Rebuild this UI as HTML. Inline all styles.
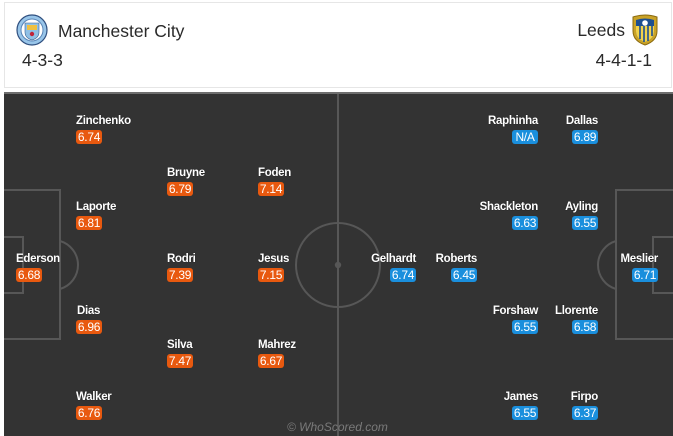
<!DOCTYPE html>
<html><head><meta charset="utf-8"><style>
html,body{margin:0;padding:0;}
body{width:673px;height:436px;position:relative;overflow:hidden;background:#fff;font-family:"Liberation Sans",Arial,sans-serif;}
.hdr{position:absolute;left:4px;top:2px;width:666px;height:84px;border:1px solid #e6e6e6;background:#fff;}
.t{position:absolute;color:#2a2a2a;font-size:17.5px;line-height:20px;white-space:nowrap;}
.pitch{position:absolute;left:4px;top:92px;width:669px;height:344px;background:#333;border-top:2px solid #6e6e6e;box-sizing:border-box;}
.n{position:absolute;color:#fff;font-weight:bold;font-size:11.5px;line-height:12px;white-space:nowrap;letter-spacing:-0.3px;text-shadow:0 0 1px rgba(0,0,0,.6);}
.b{position:absolute;height:14px;width:26px;line-height:14px;border-radius:3px;color:#fff;font-size:12px;text-align:center;letter-spacing:-0.3px;}
.h{background:#e8590f;}
.a{background:#1a8fdd;}
.r{text-align:right;}
.wm{position:absolute;left:287px;top:420px;width:100px;color:#7a7a7a;font-style:italic;font-size:12px;line-height:14px;white-space:nowrap;}
</style></head><body>
<div class="hdr"></div>
<svg style="position:absolute;left:16px;top:14px" width="32" height="32" viewBox="0 0 32 32">
<circle cx="16" cy="16" r="15" fill="#98c5e9" stroke="#2f4f7f" stroke-width="1.2"/>
<circle cx="16" cy="16" r="11" fill="#fff" stroke="#5a86b8" stroke-width="1"/>
<path d="M9 9 H23 V18 Q23 24 16 26 Q9 24 9 18 Z" fill="#8fc0e6" stroke="#3a5f8f" stroke-width=".6"/>
<rect x="11" y="11" width="10" height="5" fill="#f0c040"/>
<circle cx="16" cy="20" r="2.2" fill="#c0243a"/>
</svg>
<div class="t" style="left:58px;top:21px;">Manchester City</div>
<div class="t" style="left:22px;top:50px;">4-3-3</div>
<div class="t" style="right:48px;top:20px;">Leeds</div>
<svg style="position:absolute;left:631px;top:14px" width="28" height="32" viewBox="0 0 28 32">
<path d="M2 3 Q14 -1 26 3 V17 Q26 27 14 31 Q2 27 2 17 Z" fill="#c9a227" stroke="#8a6a10" stroke-width="1"/>
<path d="M5 6 Q14 3 23 6 V17 Q23 25 14 28 Q5 25 5 17 Z" fill="#1d4f91"/>
<path d="M5 12 H23 V17 Q23 25 14 28 Q5 25 5 17 Z" fill="#f2d34a"/>
<path d="M9 12 V25 M13 12 V28 M17 12 V27 M21 12 V22" stroke="#1d4f91" stroke-width="1.6"/>
<circle cx="14" cy="9" r="2.8" fill="#fff"/>
</svg>
<div class="t" style="right:21px;top:50px;">4-4-1-1</div>

<div class="pitch"></div>
<svg style="position:absolute;left:0;top:0" width="673" height="436">
<defs><clipPath id="cp"><rect x="4" y="94" width="669" height="342"/></clipPath></defs>
<g fill="none" stroke="#575757" stroke-width="2" clip-path="url(#cp)">
<line x1="338" y1="94" x2="338" y2="436"/>
<circle cx="338" cy="265" r="42"/>
<rect x="2" y="190" width="58" height="149"/>
<rect x="2" y="237" width="21" height="56"/>
<path d="M60 241 A25 25 0 0 1 60 289"/>
<rect x="616" y="190" width="60" height="149"/>
<rect x="653" y="237" width="22" height="56"/>
<path d="M616 241 A25 25 0 0 0 616 289"/>
</g>
<circle cx="338" cy="265" r="3.2" fill="#575757"/>
</svg>

<!-- Home -->
<div class="n" style="left:76px;top:114.5px;">Zinchenko</div><div class="b h" style="left:76px;top:130px;">6.74</div>
<div class="n" style="left:167px;top:166.5px;">Bruyne</div><div class="b h" style="left:167px;top:182px;">6.79</div>
<div class="n" style="left:258px;top:166.5px;">Foden</div><div class="b h" style="left:258px;top:182px;">7.14</div>
<div class="n" style="left:76px;top:200.5px;">Laporte</div><div class="b h" style="left:76px;top:216px;">6.81</div>
<div class="n" style="left:16px;top:252.5px;">Ederson</div><div class="b h" style="left:16px;top:268px;">6.68</div>
<div class="n" style="left:167px;top:252.5px;">Rodri</div><div class="b h" style="left:167px;top:268px;">7.39</div>
<div class="n" style="left:258px;top:252.5px;">Jesus</div><div class="b h" style="left:258px;top:268px;">7.15</div>
<div class="n" style="left:77px;top:304.5px;">Dias</div><div class="b h" style="left:76px;top:320px;">6.96</div>
<div class="n" style="left:167px;top:338.5px;">Silva</div><div class="b h" style="left:167px;top:354px;">7.47</div>
<div class="n" style="left:258px;top:338.5px;">Mahrez</div><div class="b h" style="left:258px;top:354px;">6.67</div>
<div class="n" style="left:76px;top:390.5px;">Walker</div><div class="b h" style="left:76px;top:406px;">6.76</div>

<!-- Away -->
<div class="n r" style="right:135px;top:114.5px;">Raphinha</div><div class="b a" style="right:135px;top:130px;">N/A</div>
<div class="n r" style="right:75px;top:114.5px;">Dallas</div><div class="b a" style="right:75px;top:130px;">6.89</div>
<div class="n r" style="right:135px;top:200.5px;">Shackleton</div><div class="b a" style="right:135px;top:216px;">6.63</div>
<div class="n r" style="right:75px;top:200.5px;">Ayling</div><div class="b a" style="right:75px;top:216px;">6.55</div>
<div class="n r" style="right:257px;top:252.5px;">Gelhardt</div><div class="b a" style="right:257px;top:268px;">6.74</div>
<div class="n r" style="right:196px;top:252.5px;">Roberts</div><div class="b a" style="right:196px;top:268px;">6.45</div>
<div class="n r" style="right:15px;top:252.5px;">Meslier</div><div class="b a" style="right:15px;top:268px;">6.71</div>
<div class="n r" style="right:135px;top:304.5px;">Forshaw</div><div class="b a" style="right:135px;top:320px;">6.55</div>
<div class="n r" style="right:75px;top:304.5px;">Llorente</div><div class="b a" style="right:75px;top:320px;">6.58</div>
<div class="n r" style="right:135px;top:390.5px;">James</div><div class="b a" style="right:135px;top:406px;">6.55</div>
<div class="n r" style="right:75px;top:390.5px;">Firpo</div><div class="b a" style="right:75px;top:406px;">6.37</div>

<div class="wm">© WhoScored.com</div>
</body></html>
